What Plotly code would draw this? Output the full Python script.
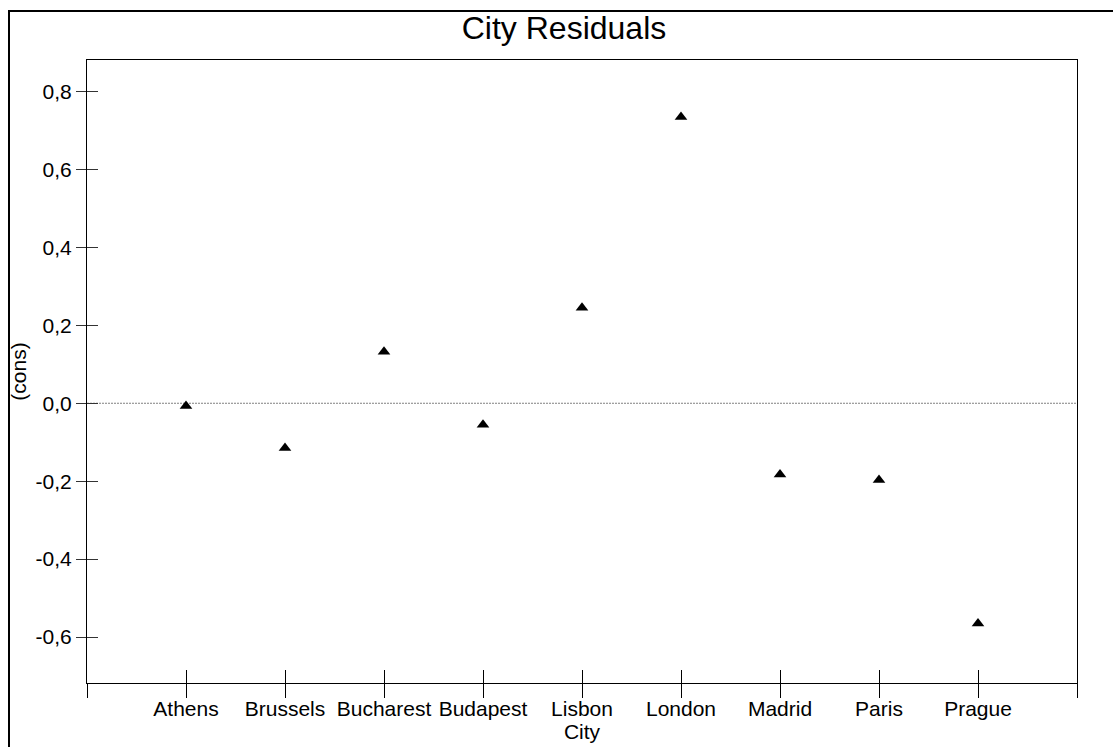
import plotly.graph_objects as go

categories = ["Athens", "Brussels", "Bucharest", "Budapest", "Lisbon", "London", "Madrid", "Paris", "Prague"]
residuals = [-0.007, -0.115, 0.132, -0.055, 0.245, 0.735, -0.183, -0.197, -0.565]
y_tickvals = [-0.6, -0.4, -0.2, 0.0, 0.2, 0.4, 0.6, 0.8]
y_ticktext = ["-0,6", "-0,4", "-0,2", "0,0", "0,2", "0,4", "0,6", "0,8"]

positions = list(range(1, len(categories) + 1))
x_tickvals = [0] + positions + [len(categories) + 1]
x_ticktext = [""] + categories + [""]
x_range = [0, len(categories) + 1]
y_range = [-0.718, 0.881]

FAMILY = "Liberation Sans, Arial, sans-serif"
font = dict(family=FAMILY, size=21, color="black")

W, H = 1113, 747
ML, MT, MR, MB = 87, 60, 36, 64
PW = W - ML - MR
PH = H - MT - MB

fig = go.Figure()
fig.add_trace(go.Scatter(
    x=positions, y=residuals, mode="markers",
    marker=dict(symbol="triangle-up", size=11, color="black"),
    showlegend=False, cliponaxis=False,
))
fig.add_trace(go.Scatter(x=[], y=[], xaxis="x2", yaxis="y2", showlegend=False, hoverinfo="skip"))

fig.update_layout(
    width=W, height=H,
    margin=dict(l=ML, r=MR, t=MT, b=MB),
    paper_bgcolor="white", plot_bgcolor="white",
    font=font,
    title=dict(text="City Residuals", x=564 / W, xref="container", xanchor="center",
               y=1 - 27.5 / H, yref="container", yanchor="middle",
               font=dict(size=32, family=FAMILY, color="black")),
    xaxis=dict(range=x_range, tickmode="array", tickvals=x_tickvals, ticktext=x_ticktext,
               ticks="outside", ticklen=14, tickcolor="black", tickwidth=1,
               ticklabelstandoff=-7,
               showline=True, linecolor="black", linewidth=1, mirror=True,
               showgrid=False, zeroline=False, automargin=False,
               title=dict(text="City", standoff=1, font=font), tickfont=font),
    yaxis=dict(range=y_range, tickmode="array", tickvals=y_tickvals, ticktext=y_ticktext,
               ticks="outside", ticklen=10, tickcolor="#333333", tickwidth=1,
               showline=True, linecolor="black", linewidth=1, mirror=True,
               showgrid=False, zeroline=False, automargin=False,
               title=dict(text="(cons)", standoff=3, font=font), tickfont=font),
    xaxis2=dict(range=x_range, overlaying="x", side="bottom", tickmode="array", tickvals=positions,
                ticks="inside", ticklen=13, tickcolor="black", tickwidth=1,
                showticklabels=False, showline=False, showgrid=False, zeroline=False),
    yaxis2=dict(range=y_range, overlaying="y", side="left", tickmode="array", tickvals=y_tickvals,
                ticks="inside", ticklen=11, tickcolor="#333333", tickwidth=1,
                showticklabels=False, showline=False, showgrid=False, zeroline=False),
    shapes=[
        dict(type="line", xref="paper", yref="y", x0=0, x1=1, y0=0, y1=0,
             line=dict(color="#808080", width=1, dash="2px,1px"), layer="below"),
        dict(type="rect", xref="paper", yref="paper",
             x0=(9 - ML) / PW, x1=1.3,
             y0=-0.3, y1=1 + (MT - 11) / PH,
             line=dict(color="black", width=2), fillcolor="rgba(0,0,0,0)", layer="below"),
    ],
)

fig.write_html("out.html", config={"displayModeBar": False},
               post_script="document.body.style.margin='0';document.body.style.overflow='hidden';")
